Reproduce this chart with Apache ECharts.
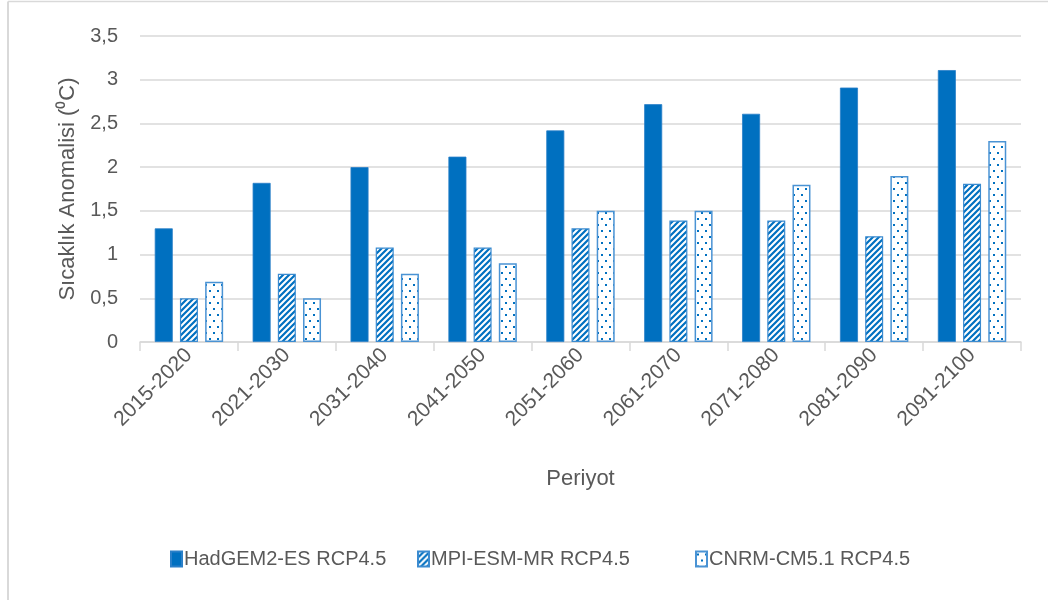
<!DOCTYPE html>
<html><head><meta charset="utf-8">
<script src="https://cdn.jsdelivr.net/npm/echarts@6/dist/echarts.min.js"></script>
<style>html,body{margin:0;padding:0;background:#fff}#c{width:1048px;height:600px}</style>
</head><body><div id="c"></div>
<script>
const categories = ['2015-2020','2021-2030','2031-2040','2041-2050','2051-2060','2061-2070','2071-2080','2081-2090','2091-2100'];
const seriesNames = ['HadGEM2-ES RCP4.5','MPI-ESM-MR RCP4.5','CNRM-CM5.1 RCP4.5'];
const hadgem = [1.3, 1.82, 2.0, 2.12, 2.42, 2.72, 2.61, 2.91, 3.11];
const mpi = [0.5, 0.78, 1.08, 1.08, 1.3, 1.39, 1.39, 1.21, 1.81];
const cnrm = [0.69, 0.5, 0.78, 0.9, 1.5, 1.5, 1.8, 1.9, 2.3];
const yTicks = ['0','0,5','1','1,5','2','2,5','3','3,5'];

const BLUE = '#0070C0';
function stripePattern(){
  const c = document.createElement('canvas'); c.width = 6; c.height = 6;
  const g = c.getContext('2d');
  g.fillStyle = '#fff'; g.fillRect(0,0,6,6);
  g.strokeStyle = BLUE; g.lineWidth = 2.2;
  g.beginPath();
  g.moveTo(-1,7); g.lineTo(7,-1);
  g.moveTo(-4,4); g.lineTo(4,-4);
  g.moveTo(2,10); g.lineTo(10,2);
  g.stroke();
  return c;
}
function dotPattern(){
  const c = document.createElement('canvas'); c.width = 8; c.height = 12;
  const g = c.getContext('2d');
  g.fillStyle = '#fff'; g.fillRect(0,0,8,12);
  g.fillStyle = BLUE;
  g.fillRect(1,2,2,2);
  g.fillRect(5,8,2,2);
  return c;
}
const chart = echarts.init(document.getElementById('c'), null, {renderer:'canvas'});
const FONT = 'Liberation Sans';
const txt = '#595959';
const legendLefts = [165, 412, 690];
function mkLegend(i){
  return {
    top: 544, left: legendLefts[i],
    itemWidth: 11, itemHeight: 15,
    icon: 'rect',
    textStyle: {color: txt, fontSize: 20, fontFamily: FONT, padding:[0,0,0,-3]},
    data: [seriesNames[i]]
  };
}
chart.setOption({
  backgroundColor: '#fff',
  animation: false,
  textStyle: {fontFamily: FONT},
  graphic: [
    {type:'line', shape:{x1:8,y1:1.5,x2:1048,y2:1.5}, style:{stroke:'#d9d9d9',lineWidth:1.5}},
    {type:'line', shape:{x1:8,y1:1.5,x2:8,y2:600}, style:{stroke:'#d9d9d9',lineWidth:2}}
  ],
  grid: {left:140, right:27, top:36, bottom:258, containLabel:false},
  legend: [mkLegend(0), mkLegend(1), mkLegend(2)],
  xAxis: {
    type:'category', data: categories,
    name:'Periyot', nameLocation:'middle', nameGap:126,
    nameTextStyle:{color:txt, fontSize:22},
    axisLine:{lineStyle:{color:'#d9d9d9', width:1.5}},
    axisTick:{show:true, length:9, lineStyle:{color:'#d9d9d9', width:1.5}},
    axisLabel:{rotate:45, color:txt, fontSize:21, margin:10}
  },
  yAxis: {
    type:'value', min:0, max:3.5, interval:0.5,
    name:'Sıcaklık Anomalisi (⁰C)', nameLocation:'middle', nameGap:60,
    nameTextStyle:{color:txt, fontSize:22},
    axisLine:{show:false}, axisTick:{show:false},
    splitLine:{lineStyle:{color:'#d9d9d9', width:1.5}},
    axisLabel:{color:txt, fontSize:20, margin:22,
      formatter: function(v){ return yTicks[Math.round(v/0.5)]; }}
  },
  series: [
    {name:seriesNames[0], type:'bar', data:hadgem, barWidth:18, barGap:'40%',
     itemStyle:{color:BLUE, borderColor:'#2a7fc8', borderWidth:0.8}},
    {name:seriesNames[1], type:'bar', data:mpi, barWidth:18, barGap:'40%',
     itemStyle:{color:{image:stripePattern(), repeat:'repeat'}, borderColor:'#3b8bd0', borderWidth:1.2}},
    {name:seriesNames[2], type:'bar', data:cnrm, barWidth:18, barGap:'40%',
     itemStyle:{color:{image:dotPattern(), repeat:'repeat'}, borderColor:'#4a93d4', borderWidth:1.5}}
  ]
});
</script></body></html>
